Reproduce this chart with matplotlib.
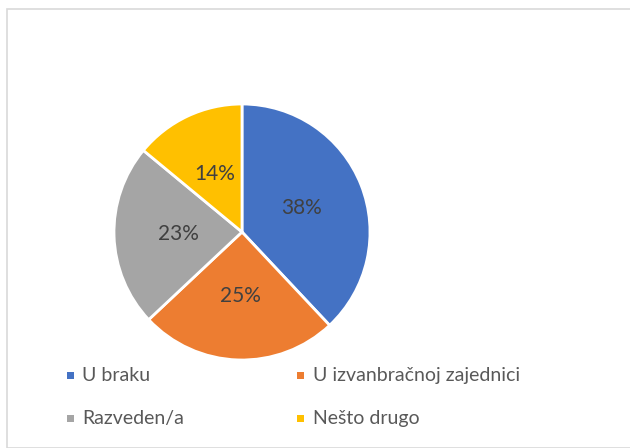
import matplotlib
matplotlib.use("Agg")
import matplotlib.pyplot as plt
from matplotlib.patches import Rectangle

categories = ["U braku", "U izvanbračnoj zajednici", "Razveden/a", "Nešto drugo"]
values = [38, 25, 23, 14]
colors = ["#4472C4", "#ED7D31", "#A5A5A5", "#FFC000"]

plt.rcParams['font.family'] = ['Lato', 'DejaVu Sans']

W, H = 630, 448
fig = plt.figure(figsize=(W/100, H/100), dpi=100)
fig.patch.set_facecolor("white")

# border
fig.add_artist(Rectangle((6.5/W, 0), 1, 1 - 9.5/H, transform=fig.transFigure,
                         fill=False, edgecolor="#D9D9D9", linewidth=1.2))

cx, cy, r = 242, 232, 128
ax = fig.add_axes([(cx - r)/W, (H - cy - r)/H, 2*r/W, 2*r/H])
wedges, texts, autotexts = ax.pie(values, colors=colors, startangle=90, counterclock=False,
                                  autopct=lambda p: f"{p:.0f}%", pctdistance=0.5,
                                  wedgeprops=dict(edgecolor="white", linewidth=2),
                                  textprops=dict(fontsize=15, color="#404040"))
ax.set_aspect("equal")
ax.set_xlim(-1, 1)
ax.set_ylim(-1, 1)
ax.axis("off")

# legend
pos = [(70, 375, 82), (300, 375, 313), (70, 418, 82), (300, 418, 313)]
for (mx, my, tx), lab, c in zip(pos, categories, colors):
    s = 7
    fig.add_artist(Rectangle(((mx - s/2)/W, (H - my - s/2)/H), s/W, s/H,
                             transform=fig.transFigure, facecolor=c, edgecolor="none"))
    fig.text(tx/W, (H - my)/H, lab, fontsize=14, color="#595959", va="center", ha="left")

fig.savefig("out.png", dpi=100)
